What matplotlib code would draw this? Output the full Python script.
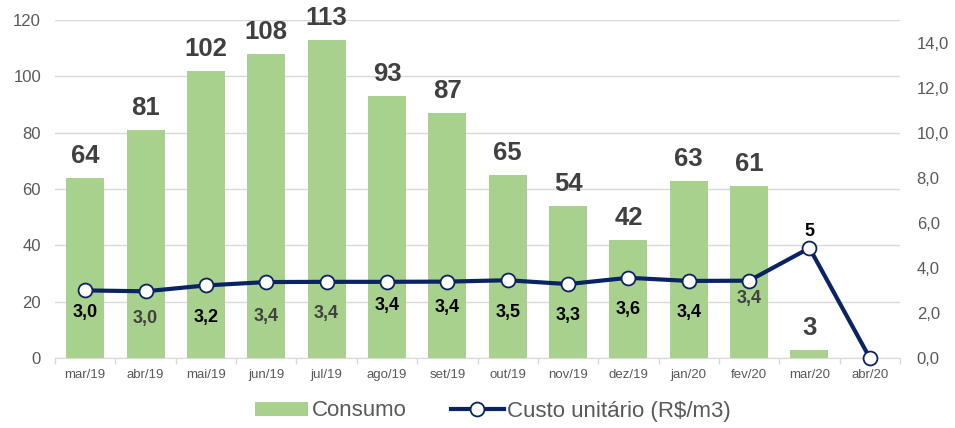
"""
Consumo mensal (barras) e custo unitário (linha), mar/19 a abr/20
"""

import numpy as np
import matplotlib
matplotlib.use("Agg")
import matplotlib.pyplot as plt

plt.rcParams['font.family'] = ['Liberation Sans', 'DejaVu Sans']

# dados
meses = ['mar/19', 'abr/19', 'mai/19', 'jun/19', 'jul/19', 'ago/19', 'set/19',
         'out/19', 'nov/19', 'dez/19', 'jan/20', 'fev/20', 'mar/20', 'abr/20']
consumo = [64, 81, 102, 108, 113, 93, 87, 65, 54, 42, 63, 61, 3, np.nan]
custo = [3.0, 2.96, 3.22, 3.37, 3.38, 3.38, 3.39, 3.45, 3.28, 3.56, 3.42, 3.43, 4.88, 0.0]
custo_rotulos = ['3,0', '3,0', '3,2', '3,4', '3,4', '3,4', '3,4',
                 '3,5', '3,3', '3,6', '3,4', '3,4', '5', '']

# estilo dos rótulos da linha (deslocamento em px, cor)
rot_desloc = [-22, -27, -32, -34, -32, -24, -26, -32, -31, -32, -32, -18, 17, 0]
rot_cor = ['black', '#404040', 'black', '#404040', '#404040', 'black', 'black',
           'black', 'black', 'black', 'black', '#404040', 'black', 'black']

VERDE = '#a9d18e'
AZUL = '#0a2463'
CINZA = '#595959'
GRADE = '#d9d9d9'

fig = plt.figure(figsize=(9.55, 4.28), dpi=100)
ax = fig.add_axes([55 / 955, 1 - 358 / 428, 845 / 955, 338 / 428])
ax2 = ax.twinx()

x = np.arange(len(meses))
ax.bar(x, consumo, width=0.63, color=VERDE, zorder=2, label='Consumo')
for xi, v in zip(x, consumo):
    if np.isnan(v):
        continue
    ax.annotate(f'{v:.0f}', (xi, v), xytext=(0, 7), textcoords='offset points',
                ha='center', va='bottom', fontsize=18.5, fontweight='bold',
                color='#404040')

ax.set_ylim(0, 120)
ax.set_yticks(range(0, 121, 20))
ax.set_xlim(-0.5, len(meses) - 0.5)
ax.grid(axis='y', color=GRADE, linewidth=1, zorder=0)
ax.set_axisbelow(True)
ax.set_xticks(x)
ax.set_xticklabels(meses)
ax.set_xticks(np.arange(-0.5, len(meses), 1), minor=True)
ax.tick_params(axis='x', which='major', length=0, pad=8, labelsize=9.5, labelcolor=CINZA)
ax.tick_params(axis='x', which='minor', length=4, color=GRADE, width=1)
ax.tick_params(axis='y', length=0, pad=10, labelsize=12, labelcolor=CINZA)
for s in ['top', 'left', 'right']:
    ax.spines[s].set_visible(False)
ax.spines['bottom'].set_color(GRADE)
ax.spines['bottom'].set_zorder(3)

ax2.plot(x, custo, color=AZUL, linewidth=3, marker='o', markersize=10,
         markerfacecolor='white', markeredgecolor=AZUL, markeredgewidth=1.3,
         zorder=5, clip_on=False, label='Custo unitário (R$/m3)')
for xi, v, t, d, c in zip(x, custo, custo_rotulos, rot_desloc, rot_cor):
    if not t:
        continue
    ax2.annotate(t, (xi, v), xytext=(0, d * 0.72), textcoords='offset points',
                 ha='center', va='center', fontsize=13, fontweight='bold', color=c)
ax2.set_ylim(0, 15)
ax2.set_yticks(np.arange(0, 15, 2))
ax2.set_yticklabels([f'{t:.1f}'.replace('.', ',') for t in np.arange(0, 15, 2)])
ax2.tick_params(axis='y', length=0, pad=12, labelsize=12, labelcolor=CINZA)
for s in ax2.spines.values():
    s.set_visible(False)

h1, l1 = ax.get_legend_handles_labels()
h2, l2 = ax2.get_legend_handles_labels()
fig.legend(h1 + h2, l1 + l2, loc='center', bbox_to_anchor=(493 / 955, 1 - 411 / 428),
           ncol=2, frameon=False, fontsize=16, handlelength=2.4, handleheight=0.6,
           handletextpad=0.15, columnspacing=2.0, labelcolor=CINZA)

fig.savefig('out.png', dpi=100)
